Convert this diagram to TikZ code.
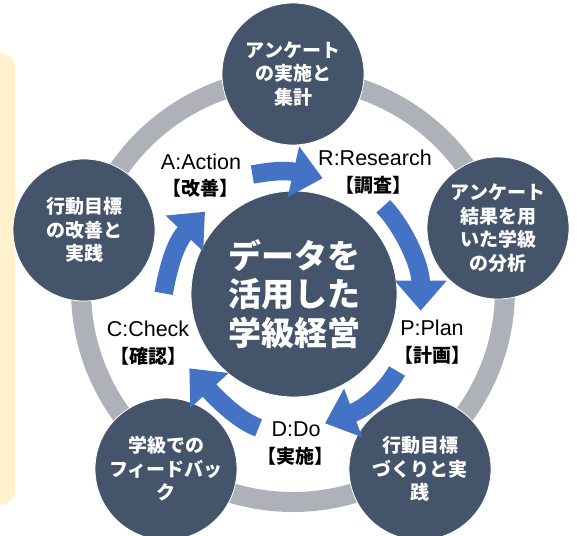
\documentclass[tikz,border=0pt]{standalone}
\usepackage{fontspec}
\usetikzlibrary{arrows.meta}
\newfontfamily\jp{Noto Sans CJK JP}
\newfontfamily\lat{Liberation Sans}
\definecolor{darkc}{HTML}{44546A}
\definecolor{blueA}{HTML}{4472C4}
\definecolor{ringc}{HTML}{AEB1B8}
\definecolor{paneY}{HTML}{FFF2CC}
\tikzset{
  outerc/.style={circle, fill=darkc, draw=white, line width=0.8pt, minimum size=142pt, inner sep=0pt, text=white, align=center, font=\jp\bfseries\fontsize{19}{23.5}\selectfont},
  centerc/.style={circle, fill=darkc, draw=white, line width=0.8pt, minimum size=206pt, inner sep=0pt, text=white, align=center, font=\jp\bfseries\fontsize{33}{38.5}\selectfont},
  phase/.style={align=center, inner sep=0pt, text=black},
  en/.style={font=\lat\fontsize{21.5}{24}\selectfont},
  jpl/.style={font=\jp\bfseries\fontsize{19}{22}\selectfont},
  arr/.style={draw=blueA, line width=18.5pt, -{Triangle[length=30pt,width=50pt]}}
}
\begin{document}
\begin{tikzpicture}[x=1pt,y=-1pt]
\useasboundingbox (0,0) rectangle (577,535);
\begin{scope}
\clip (0,0) rectangle (577,535);
% yellow side panel
\fill[paneY, rounded corners=14pt] (-30,53) rectangle (15,505);
% gray ring
\draw[ringc, line width=20pt] (293,290) circle[radius=212];
% outer circles
\node[outerc] (top) at (293,74) {アンケート\\の実施と\\集計};
\node[outerc] (right) at (498,228) {アンケート\\結果を用\\いた学級\\の分析};
\node[outerc] (br) at (420,469) {行動目標\\づくりと実\\践};
\node[outerc] (bl) at (166,469) {学級での\\フィードバッ\\ク};
\node[outerc] (left) at (84,230) {行動目標\\の改善と\\実践};
% center circle
\node[centerc] (core) at (294,294) {データを\\活用した\\学級経営};
\end{scope}
% phase labels
\node[phase, en] (aE) at (201,162) {A:Action};
\node[phase, jpl] (aJ) at (200,188) {【改善】};
\node[phase, en] (rE) at (375,158) {R:Research};
\node[phase, jpl] (rJ) at (373,185) {【調査】};
\node[phase, en] (pE) at (432,328) {P:Plan};
\node[phase, jpl] (pJ) at (432,355) {【計画】};
\node[phase, en] (dE) at (296,429) {D:Do};
\node[phase, jpl] (dJ) at (295,456) {【実施】};
\node[phase, en] (cE) at (148,329) {C:Check};
\node[phase, jpl] (cJ) at (148,356) {【確認】};
% arrow end points
\coordinate (a1s) at (252.3,174.5); \coordinate (a1e) at (322.7,178.3);
\coordinate (a2s) at (383.3,206.3); \coordinate (a2e) at (420.7,310.7);
\coordinate (a3s) at (397,371);     \coordinate (a3e) at (325,423.3);
\coordinate (a4s) at (258.6,427.8); \coordinate (a4e) at (189.3,368.3);
\coordinate (a5s) at (163.7,293.3); \coordinate (a5e) at (205,211.7);
\draw[arr] (a1s) .. controls (267,172) and (283.7,169.5) .. (a1e);
\draw[arr] (a2s) .. controls (404,228) and (420.7,265.7) .. (a2e);
\draw[arr] (a3s) .. controls (387.4,388.5) and (367.2,407.6) .. (a3e);
\draw[arr] (a4s) .. controls (239.8,421) and (219.6,401.6) .. (a4e);
\draw[arr] (a5s) .. controls (167.1,273.6) and (174,244.3) .. (a5e);
\end{tikzpicture}
\end{document}
